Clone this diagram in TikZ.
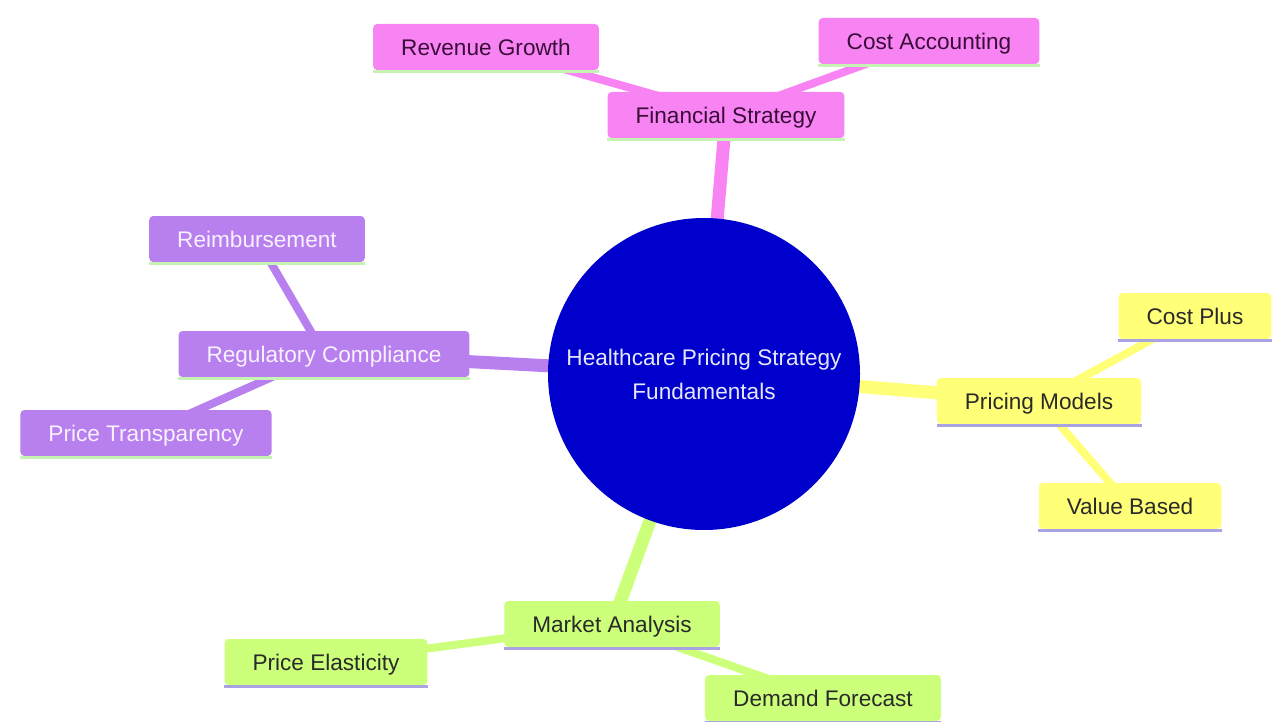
\documentclass[tikz,border=0pt]{standalone}
\usepackage{fontspec}
\setmainfont{Liberation Sans}
\usetikzlibrary{positioning, backgrounds}
\definecolor{rosepink}{HTML}{F884F3}
\definecolor{pinktext}{HTML}{3A0C3A}
\definecolor{lilac}{HTML}{B87FEE}
\definecolor{lilactext}{HTML}{F8F2FF}
\definecolor{lemon}{HTML}{FFFF78}
\definecolor{limegreen}{HTML}{CCFF7A}
\definecolor{darktext}{HTML}{2A2A2A}
\definecolor{rootblue}{HTML}{0000CC}
\definecolor{roottext}{HTML}{E6E6FA}
\definecolor{mintline}{HTML}{C6F2B4}
\definecolor{lavline}{HTML}{A9A3E3}

\begin{document}
\begin{tikzpicture}[x=0.5pt, y=-0.5pt,
	every node/.style={font=\fontsize{11.3pt}{17pt}\selectfont},
	topic/.style={rectangle, rounded corners=2pt, inner xsep=14pt, inner ysep=0pt, minimum height=23pt, text height=8.1pt, text depth=0pt},
	pinkbox/.style={topic, fill=rosepink, text=pinktext},
	lilacbox/.style={topic, fill=lilac, text=lilactext},
	lemonbox/.style={topic, fill=lemon, text=darktext},
	limebox/.style={topic, fill=limegreen, text=darktext},
	trunk/.style={line width=6.5pt},
	twig/.style={line width=4pt}]

\useasboundingbox (0,0) rectangle (1274,722);

% root
\node[circle, fill=rootblue, text=roottext, minimum size=156pt, inner sep=0pt, align=center] (root) at (704,374) {Healthcare Pricing Strategy\\Fundamentals};

% financial branch
\node[pinkbox] (fin) at (726,115) {Financial Strategy};
\node[pinkbox] (rev) at (486,47) {Revenue Growth};
\node[pinkbox] (cost) at (929,41) {Cost Accounting};

% regulatory branch
\node[lilacbox] (reg) at (324,354) {Regulatory Compliance};
\node[lilacbox] (reim) at (257,239) {Reimbursement};
\node[lilacbox] (trans) at (146,433) {Price Transparency};

% pricing branch
\node[lemonbox] (models) at (1039,401) {Pricing Models};
\node[lemonbox] (plus) at (1195,316) {Cost Plus};
\node[lemonbox] (value) at (1130,506) {Value Based};

% market branch
\node[limebox] (market) at (612,624) {Market Analysis};
\node[limebox] (elast) at (326,662) {Price Elasticity};
\node[limebox] (demand) at (823,698) {Demand Forecast};

\begin{pgfonlayer}{background}
\draw[trunk, rosepink] (root.center) -- (fin.center);
\draw[trunk, lilac] (root.center) -- (reg.center);
\draw[trunk, lemon] (root.center) -- (models.center);
\draw[trunk, limegreen] (root.center) -- (market.center);

\foreach \n in {rev,cost}
\draw[twig, rosepink] (fin.center) -- (\n.center);
\foreach \n in {reim,trans}
\draw[twig, lilac] (reg.center) -- (\n.center);
\foreach \n in {plus,value}
\draw[twig, lemon] (models.center) -- (\n.center);
\foreach \n in {elast,demand}
\draw[twig, limegreen] (market.center) -- (\n.center);
\end{pgfonlayer}

% underlines
\foreach \n in {fin,rev,cost,reg,reim,trans}
\draw[mintline, line width=1.5pt] ([yshift=-0.75pt]\n.south west) -- ([yshift=-0.75pt]\n.south east);
\foreach \n in {models,plus,value,market,elast,demand}
\draw[lavline, line width=1.5pt] ([yshift=-0.75pt]\n.south west) -- ([yshift=-0.75pt]\n.south east);

\end{tikzpicture}
\end{document}
